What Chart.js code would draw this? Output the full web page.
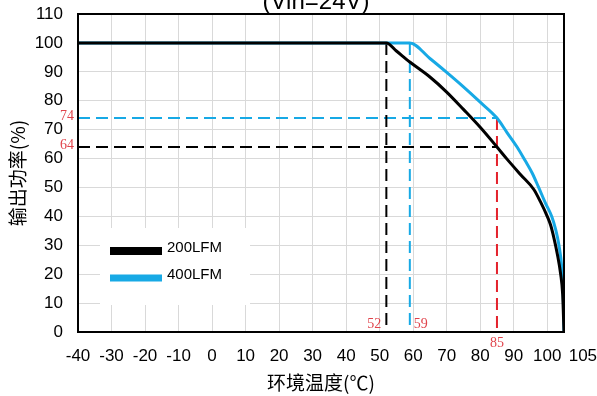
<!DOCTYPE html>
<html>
<head>
<meta charset="utf-8">
<script src="https://cdn.jsdelivr.net/npm/chart.js@4/dist/chart.umd.min.js"></script>
<style>
  html, body { margin: 0; padding: 0; background: #fff; }
  #wrap { width: 597px; height: 396px; position: relative; }
</style>
</head>
<body>
<div id="wrap"><canvas id="c" width="597" height="396"></canvas></div>
<script>
// Derating curves: output power (%) versus ambient temperature (°C)
const chartTitle = '(Vin=24V)';
const seriesNames = ['200LFM', '400LFM'];

const temps200 = [-40, 52, 55, 59, 65, 70, 75, 80, 85, 88, 92, 96, 98, 100, 101, 102, 103, 104, 104.6, 105];
const power200 = [100, 100, 97.2, 93.4, 88.2, 83, 77, 70.8, 64, 59.8, 54.5, 49.3, 45, 40, 37, 32.5, 27, 20, 13, 0];

const temps400 = [-40, 59, 65, 70, 75, 80, 85, 88, 91, 93.4, 95.5, 97.4, 99.5, 101.4, 102.5, 103.4, 104.4, 104.8, 105];
const power400 = [100, 100, 94.6, 89.8, 84.8, 79.5, 74, 69, 64, 59.3, 55, 50.1, 44.5, 39.8, 35.5, 30.6, 21.4, 12, 0];

// Marked operating points
const knee200 = 52;     // 200LFM full-power limit
const knee400 = 59;     // 400LFM full-power limit
const markTemp = 85;    // reference temperature
const mark200 = 64;     // 200LFM power at 85°C
const mark400 = 74;     // 400LFM power at 85°C

const xTickValues = [-40, -30, -20, -10, 0, 10, 20, 30, 40, 50, 60, 70, 80, 90, 100, 105];
const yTickValues = [0, 10, 20, 30, 40, 50, 60, 70, 80, 90, 100, 110];

const BLUE = '#17a9e5';
const BLACK = '#000000';
const RED = '#e4222c';
const RED_TEXT = '#e0434b';

const pts = (xs, ys) => xs.map((x, i) => ({ x: x, y: ys[i] }));

const dashed = (data, color) => ({
  data: data,
  borderColor: color,
  borderWidth: 2,
  borderDash: [12, 6],
  pointRadius: 0,
  fill: false,
  tension: 0,
  order: 2
});

const datasets = [
  {
    label: seriesNames[0],
    data: pts(temps200, power200),
    borderColor: BLACK,
    borderWidth: 3,
    pointRadius: 0,
    fill: false,
    cubicInterpolationMode: 'monotone',
    order: 0
  },
  {
    label: seriesNames[1],
    data: pts(temps400, power400),
    borderColor: BLUE,
    borderWidth: 3,
    pointRadius: 0,
    fill: false,
    cubicInterpolationMode: 'monotone',
    order: 0
  },
  dashed([{ x: knee200, y: 100 }, { x: knee200, y: 0 }], BLACK),
  dashed([{ x: knee400, y: 100 }, { x: knee400, y: 0 }], BLUE),
  dashed([{ x: -40, y: mark200 }, { x: markTemp, y: mark200 }], BLACK),
  dashed([{ x: -40, y: mark400 }, { x: markTemp, y: mark400 }], BLUE),
  dashed([{ x: markTemp, y: mark400 }, { x: markTemp, y: 0 }], RED)
];

// Frame, title, in-plot legend and value annotations
const decorations = {
  id: 'decorations',
  beforeDatasetsDraw(chart) {
    const { ctx } = chart;
    ctx.save();
    // legend background
    ctx.fillStyle = '#ffffff';
    ctx.fillRect(100, 228, 150, 77);
    ctx.restore();
  },
  afterDatasetsDraw(chart) {
    const { ctx, chartArea: a, scales } = chart;
    const xs = scales.x, ys = scales.y;
    ctx.save();
    // plot frame
    ctx.strokeStyle = '#000';
    ctx.lineWidth = 2;
    ctx.strokeRect(a.left, a.top, a.right - a.left, a.bottom - a.top);

    // title (top edge clipped by the canvas)
    ctx.fillStyle = '#000';
    ctx.font = '24px "Liberation Sans", Arial, sans-serif';
    ctx.textAlign = 'center';
    ctx.textBaseline = 'alphabetic';
    ctx.fillText(chartTitle, 316, 8.5);

    // legend
    const legendRows = [
      { y: 251, w: 8 },
      { y: 278, w: 7 }
    ];
    legendRows.forEach((r, i) => {
      const ds = chart.data.datasets[i];
      ctx.strokeStyle = ds.borderColor;
      ctx.lineWidth = r.w;
      ctx.beginPath();
      ctx.moveTo(110, r.y);
      ctx.lineTo(162, r.y);
      ctx.stroke();
      ctx.fillStyle = '#000';
      ctx.font = '15px "Liberation Sans", Arial, sans-serif';
      ctx.textAlign = 'left';
      ctx.textBaseline = 'middle';
      ctx.fillText(ds.label, 167, r.y - 3);
    });

    // value annotations
    ctx.fillStyle = RED_TEXT;
    ctx.font = '14px "Liberation Serif", "Times New Roman", serif';
    ctx.textBaseline = 'middle';
    ctx.textAlign = 'right';
    ctx.fillText(String(mark400), 74, ys.getPixelForValue(mark400) - 2);
    ctx.fillText(String(mark200), 74, ys.getPixelForValue(mark200) - 2);
    ctx.fillText(String(knee200), xs.getPixelForValue(knee200) - 5, a.bottom - 8);
    ctx.textAlign = 'left';
    ctx.fillText(String(knee400), xs.getPixelForValue(knee400) + 4, a.bottom - 8);
    ctx.textAlign = 'center';
    ctx.fillText(String(markTemp), xs.getPixelForValue(markTemp), a.bottom + 11);
    ctx.restore();
  }
};

const tickFont = { family: '"Liberation Sans", Arial, sans-serif', size: 17 };
const titleFont = { family: '"Noto Sans CJK SC", sans-serif', size: 19 };

new Chart(document.getElementById('c'), {
  type: 'line',
  data: { datasets: datasets },
  options: {
    responsive: false,
    animation: false,
    layout: { padding: { left: 0, right: 33, top: 14, bottom: 0 } },
    plugins: {
      legend: { display: false },
      tooltip: { enabled: false },
      title: { display: false }
    },
    scales: {
      x: {
        type: 'linear',
        min: -40,
        max: 105,
        afterBuildTicks: (s) => { s.ticks = xTickValues.map(v => ({ value: v })); },
        afterFit: (s) => { s.height = 64; s.paddingLeft = 0; s.paddingRight = 0; },
        grid: { color: '#d9d9d9', lineWidth: 1, drawTicks: false },
        border: { display: true, color: '#000', width: 2 },
        ticks: {
          autoSkip: false,
          maxRotation: 0,
          minRotation: 0,
          padding: 14,
          color: '#000',
          font: tickFont,
          callback: (v) => v === 105 ? '        105' : String(v)
        },
        title: {
          display: true,
          text: '环境温度(℃)',
          color: '#000',
          font: titleFont,
          padding: { top: 0, bottom: 2 }
        }
      },
      y: {
        min: 0,
        max: 110,
        afterBuildTicks: (s) => { s.ticks = yTickValues.map(v => ({ value: v })); },
        afterFit: (s) => { s.width = 78; s.paddingTop = 0; s.paddingBottom = 0; },
        grid: { color: '#d9d9d9', lineWidth: 1, drawTicks: false },
        border: { display: true, color: '#000', width: 2 },
        ticks: {
          padding: 15,
          color: '#000',
          font: tickFont
        },
        title: {
          display: true,
          text: '输出功率(%)',
          color: '#000',
          font: titleFont,
          padding: { top: 6, bottom: 0 }
        }
      }
    }
  },
  plugins: [decorations]
});
</script>
</body>
</html>
